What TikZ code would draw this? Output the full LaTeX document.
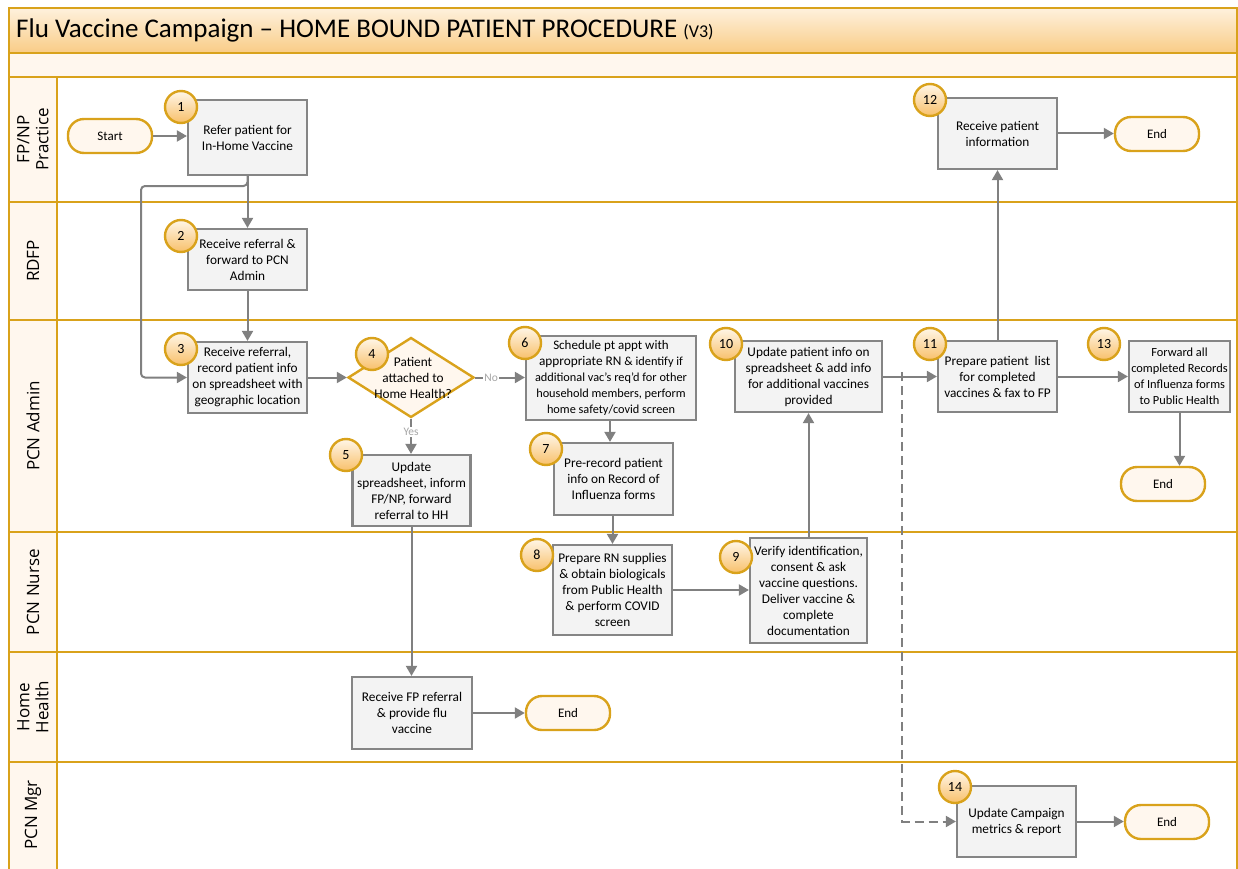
\documentclass[tikz,border=0pt]{standalone}
\usepackage{fontspec}
\setmainfont{Carlito}
\newfontfamily\lanefont{Open Sans}
\usetikzlibrary{arrows.meta,shapes.geometric,calc}
\definecolor{gold}{HTML}{D9A21B}
\definecolor{boxfill}{HTML}{F3F3F3}
\definecolor{boxline}{HTML}{858585}
\definecolor{cream}{HTML}{FFF7EE}
\definecolor{arrowgray}{HTML}{808080}
\definecolor{labelgray}{HTML}{A6A6A6}
\definecolor{titletop}{HTML}{FEF1DD}
\definecolor{titlebot}{HTML}{F9CC86}
\definecolor{circtop}{HTML}{FFF6E8}
\definecolor{circbot}{HTML}{F8C06A}
\tikzset{
  stepbox/.style={draw=boxline, fill=boxfill, line width=2.2pt, align=center,
    inner sep=1pt, font=\fontsize{13.3}{16}\selectfont},
  numcirc/.style={circle, draw=gold, line width=2.4pt, top color=circtop,
    bottom color=circbot, minimum size=32pt, inner sep=0pt,
    font=\fontsize{14}{16}\selectfont},
  term/.style={draw=gold, fill=cream, line width=2.4pt, rounded corners=16pt,
    minimum width=84pt, minimum height=34pt, font=\fontsize{13}{15}\selectfont},
  decision/.style={diamond, draw=gold, fill=cream, line width=2.4pt,
    minimum width=126pt, minimum height=80pt, inner sep=0pt},
  conn/.style={draw=arrowgray, line width=2pt,
    -{Triangle[width=11pt,length=10pt]}},
  lanelabel/.style={rotate=90, align=center, font=\lanefont\fontsize{17}{19}\selectfont},
  laneline/.style={draw=gold, line width=2.8pt},
  edgelbl/.style={text=labelgray, fill=white, inner sep=1pt, font=\fontsize{11.5}{13}\selectfont}
}
\begin{document}
\begin{tikzpicture}[x=1pt,y=-1pt]
\useasboundingbox (0,0) rectangle (1238,869);
% title and bands
\shade[top color=titletop, bottom color=titlebot] (9,8) rectangle (1237,53);
\fill[cream] (9,53) rectangle (1237,77);
\fill[cream] (9,77) rectangle (57,869);
\draw[laneline] (9,869) -- (9,8) -- (1237,8) -- (1237,869);
\draw[laneline] (9,53) -- (1237,53);
\draw[laneline] (57,77) -- (57,869);
\foreach \yy in {77,202,320,532,652,762} \draw[laneline] (9,\yy) -- (1237,\yy);
\node[anchor=west, inner sep=0pt] (title) at (16,30) {\fontsize{27}{30}\selectfont Flu Vaccine Campaign – HOME BOUND PATIENT PROCEDURE \fontsize{18}{20}\selectfont(V3)};
% lane labels
\node[lanelabel] (l1) at (33,139.5) {FP/NP\\Practice};
\node[lanelabel] (l2) at (33,261) {RDFP};
\node[lanelabel] (l3) at (33,426) {PCN Admin};
\node[lanelabel] (l4) at (33,592) {PCN Nurse};
\node[lanelabel] (l5) at (33,707) {Home\\Health};
\node[lanelabel] (l6) at (33,815) {PCN Mgr};
% terminals
\node[term] (start) at (110,136) {Start};
\node[term] (end12) at (1157,134) {End};
\node[term] (end13) at (1163,484) {End};
\node[term] (endhh) at (568,713) {End};
\node[term] (end14) at (1167,822) {End};
% steps
\node[stepbox, minimum width=119pt, minimum height=75pt] (b1) at (247.5,137.5) {Refer patient for\\In-Home Vaccine};
\node[stepbox, minimum width=119pt, minimum height=61pt] (b2) at (247.5,259.5) {Receive referral \&\\forward to PCN\\Admin};
\node[stepbox, minimum width=119pt, minimum height=71pt] (b3) at (247.5,377.5) {Receive referral,\\record patient info\\on spreadsheet with\\geographic location};
\node[decision] (d4) at (411,377.5) {};
\node[align=center, font=\fontsize{13.3}{16}\selectfont] (d4t) at (413,378) {Patient\\attached to\\Home Health?};
\node[stepbox, minimum width=118pt, minimum height=71pt] (b5) at (411.5,490.5) {Update\\spreadsheet, inform\\FP/NP, forward\\referral to HH};
\node[stepbox, minimum width=170pt, minimum height=84pt] (b6) at (611,378) {\fontsize{13}{15.5}\selectfont Schedule pt appt with\\appropriate RN {\fontsize{12.3}{13.5}\selectfont\& identify if}\\{\fontsize{12.3}{13.5}\selectfont additional vac's req'd for other}\\{\fontsize{12.3}{13.5}\selectfont household members, perform}\\{\fontsize{12.3}{13.5}\selectfont home safety/covid screen}};
\node[stepbox, minimum width=119pt, minimum height=72pt] (b7) at (613.5,479) {Pre-record patient\\info on Record of\\Influenza forms};
\node[stepbox, minimum width=119pt, minimum height=90pt] (b8) at (612.5,590) {Prepare RN supplies\\\& obtain biologicals\\from Public Health\\\& perform COVID\\screen};
\node[stepbox, minimum width=117pt, minimum height=105pt] (b9) at (808.5,590.5) {Verify identification,\\consent \& ask\\vaccine questions.\\Deliver vaccine \&\\complete\\documentation};
\node[stepbox, minimum width=147pt, minimum height=71pt] (b10) at (808.5,376.5) {Update patient info on\\spreadsheet \& add info\\for additional vaccines\\provided};
\node[stepbox, minimum width=119pt, minimum height=71pt] (b11) at (997.5,376.5) {Prepare patient~ list\\for completed\\vaccines \& fax to FP};
\node[stepbox, minimum width=119pt, minimum height=71pt] (b12) at (997.5,133.5) {Receive patient\\information};
\node[stepbox, minimum width=101pt, minimum height=71pt, font=\fontsize{12.4}{16}\selectfont] (b13) at (1179.5,376.5) {Forward all\\completed Records\\of Influenza forms\\to Public Health};
\node[stepbox, minimum width=120pt, minimum height=72pt] (hh) at (412,713) {Receive FP referral\\\& provide flu\\vaccine};
\node[stepbox, minimum width=119pt, minimum height=71pt] (b14) at (1016.5,821.5) {Update Campaign\\metrics \& report};
% number circles
\node[numcirc] (c1) at (181,107) {1};
\node[numcirc] (c2) at (181,236) {2};
\node[numcirc] (c3) at (181,349) {3};
\node[numcirc] (c4) at (372,354) {4};
\node[numcirc] (c5) at (346,455) {5};
\node[numcirc] (c6) at (525,343) {6};
\node[numcirc] (c7) at (546,449) {7};
\node[numcirc] (c8) at (537,555) {8};
\node[numcirc] (c9) at (736,557) {9};
\node[numcirc] (c10) at (726,344) {10};
\node[numcirc] (c11) at (930,344) {11};
\node[numcirc] (c12) at (930,100) {12};
\node[numcirc] (c13) at (1104,344) {13};
\node[numcirc] (c14) at (955,787) {14};
% connectors
\coordinate (bend) at (141,186);
\coordinate (dsplit) at (902,377);
\draw[conn] (start.east) -- (start.east -| b1.west);
\draw[conn] (b1.south) -- (b2.north);
\draw[conn, rounded corners=4pt] (b1.south) |- (bend) |- (b3.west);
\draw[conn] (b2.south) -- (b3.north);
\draw[conn] (b3.east) -- (d4.west);
\draw[conn] (d4.east) -- (b6.west |- d4.east) node[edgelbl, pos=0.32] (no) {No};
\draw[conn] (d4.south) -- (d4.south |- b5.north) node[edgelbl, pos=0.38] (yes) {Yes};
\draw[conn] (b5.south) -- (b5.south |- hh.north);
\draw[conn] ([xshift=-1pt]b6.south) -- ([xshift=-1pt]b6.south |- b7.north);
\draw[conn] ([xshift=-1pt]b7.south) -- ([xshift=-1pt]b7.south |- b8.north);
\draw[conn] (b8.east) -- (b8.east -| b9.west);
\draw[conn] (b9.north) -- (b9.north |- b10.south);
\draw[conn] (b10.east) -- (b11.west);
\draw[draw=arrowgray, line width=2pt, dash pattern=on 9pt off 5pt, -{Triangle[width=11pt,length=10pt]}] ([yshift=5pt]dsplit) |- (b14.west);
\draw[conn] (b11.north) -- (b12.south);
\draw[conn] (b12.east) -- (b12.east -| end12.west);
\draw[conn] (b11.east) -- (b13.west);
\draw[conn] (b13.south) -- (b13.south |- end13.north);
\draw[conn] (hh.east) -- (hh.east -| endhh.west);
\draw[conn] (b14.east) -- (b14.east -| end14.west);
\end{tikzpicture}
\end{document}
